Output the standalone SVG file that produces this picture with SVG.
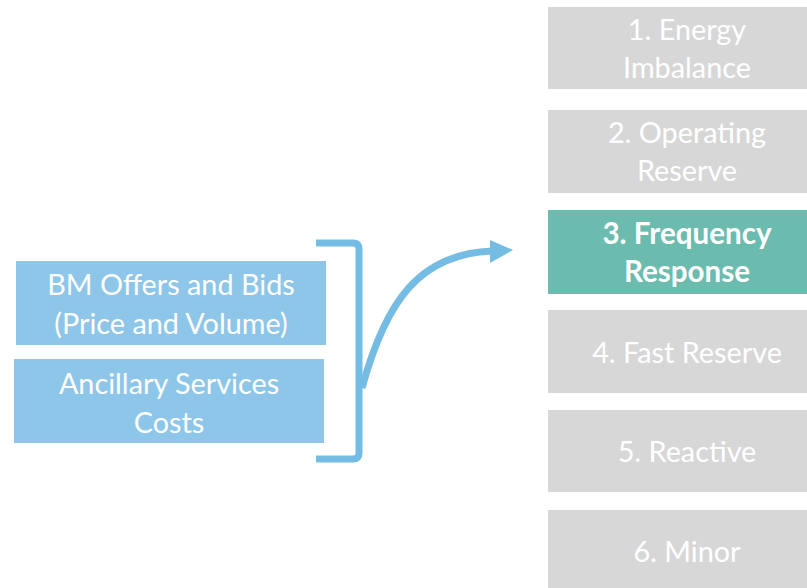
<svg xmlns="http://www.w3.org/2000/svg" width="807" height="588" viewBox="0 0 807 588">
  <style>
    .src { fill: #8DC6E8; }
    .cat { fill: #D7D7D8; }
    .hot { fill: #6BBBAE; }
    text { font-family: Lato, "Open Sans", "Liberation Sans", sans-serif; font-size: 28.8px; fill: #FFFFFF; text-anchor: middle; }
    .bold { font-weight: bold; font-size: 29.6px; }
    .wire { fill: none; stroke: #74BCE3; stroke-width: 7; }
  </style>
  <rect width="807" height="588" fill="#FFFFFF"/>

  <!-- input boxes -->
  <g id="bm-offers">
    <rect class="src" x="16" y="261" width="310" height="84"/>
    <text x="171" y="295">BM Offers and Bids</text>
    <text x="171" y="334">(Price and Volume)</text>
  </g>
  <g id="ancillary">
    <rect class="src" x="14" y="359" width="310" height="84"/>
    <text x="169" y="394">Ancillary Services</text>
    <text x="169" y="433">Costs</text>
  </g>

  <!-- categories -->
  <g id="cat-1">
    <rect class="cat" x="548" y="7" width="280" height="82"/>
    <text x="687" y="40">1. Energy</text>
    <text x="687" y="78">Imbalance</text>
  </g>
  <g id="cat-2">
    <rect class="cat" x="548" y="110" width="280" height="83"/>
    <text x="687" y="143">2. Operating</text>
    <text x="687" y="181">Reserve</text>
  </g>
  <g id="cat-3">
    <rect class="hot" x="548" y="210" width="280" height="84"/>
    <text class="bold" x="687" y="244">3. Frequency</text>
    <text class="bold" x="687" y="282">Response</text>
  </g>
  <g id="cat-4">
    <rect class="cat" x="548" y="310" width="280" height="83"/>
    <text x="687" y="363">4. Fast Reserve</text>
  </g>
  <g id="cat-5">
    <rect class="cat" x="548" y="410" width="280" height="82"/>
    <text x="687" y="462">5. Reactive</text>
  </g>
  <g id="cat-6">
    <rect class="cat" x="548" y="510" width="280" height="82"/>
    <text x="687" y="562">6. Minor</text>
  </g>

  <!-- connectors -->
  <g id="connectors">
    <path class="wire" d="M316,243 L353,243 Q359,243 359,249 L359,453 Q359,459 353,459 L316,459"/>
    <path class="wire" d="M362,388 C386,300 420,254 492,251"/>
    <polygon fill="#74BCE3" points="490,240 513,250 490,263"/>
  </g>
</svg>
